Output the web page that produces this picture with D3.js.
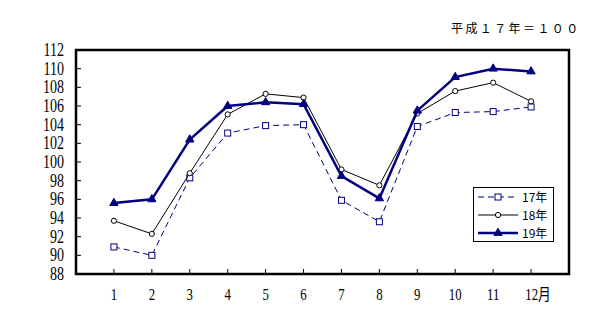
<!DOCTYPE html>
<html>
<head>
<meta charset="utf-8">
<script src="https://cdn.jsdelivr.net/npm/d3@7"></script>
<style>
  body { margin: 0; background: #fff; }
  svg { display: block; }
</style>
</head>
<body>
<div id="chart"></div>
<script>
// values (index, base year = 100)
const months = [1, 2, 3, 4, 5, 6, 7, 8, 9, 10, 11, 12];
const monthLabels = ["1", "2", "3", "4", "5", "6", "7", "8", "9", "10", "11", "12月"];
const yTicks = [88, 90, 92, 94, 96, 98, 100, 102, 104, 106, 108, 110, 112];
const seriesNames = ["17年", "18年", "19年"];
const h17 = [90.9, 90.0, 98.3, 103.1, 103.9, 104.0, 95.9, 93.6, 103.8, 105.3, 105.4, 105.9];
const h18 = [93.7, 92.3, 98.8, 105.1, 107.3, 106.9, 99.2, 97.5, 105.2, 107.6, 108.5, 106.5];
const h19 = [95.6, 96.0, 102.4, 106.0, 106.4, 106.2, 98.5, 96.1, 105.5, 109.1, 110.0, 109.7];

const W = 610, H = 320;
const frame = {left: 76, top: 50, right: 569, bottom: 274};
const navy = "#000080";

const svg = d3.select("#chart").append("svg")
  .attr("width", W).attr("height", H);

const x = d3.scalePoint()
  .domain(months)
  .range([frame.left, frame.right])
  .padding(1);

const y = d3.scaleLinear()
  .domain([88, 112])
  .range([frame.bottom, frame.top]);

// note at top right
svg.append("text")
  .attr("x", 451).attr("y", 33)
  .attr("font-family", "'Noto Sans CJK JP', sans-serif")
  .attr("font-size", 12)
  .attr("letter-spacing", 2.4)
  .text("平成１７年＝１００");

// y tick labels (narrow serif look)
svg.selectAll("g.ylab")
  .data(yTicks)
  .join("g")
  .attr("class", "ylab")
  .attr("transform", d => `translate(64,${y(d) + 6}) scale(0.78,1)`)
  .append("text")
  .attr("text-anchor", "end")
  .attr("font-family", "'Liberation Serif', serif")
  .attr("font-size", 18)
  .text(d => d);

// inward y ticks
svg.selectAll("line.ytick")
  .data(yTicks.slice(1, -1))
  .join("line")
  .attr("x1", frame.left).attr("x2", frame.left + 5)
  .attr("y1", d => y(d)).attr("y2", d => y(d))
  .attr("stroke", "#000").attr("stroke-width", 1);

// inward x ticks
svg.selectAll("line.xtick")
  .data(months)
  .join("line")
  .attr("x1", d => x(d)).attr("x2", d => x(d))
  .attr("y1", frame.bottom).attr("y2", frame.bottom - 5)
  .attr("stroke", "#000").attr("stroke-width", 1);

// x labels
svg.selectAll("g.xlab")
  .data(months)
  .join("g")
  .attr("class", "xlab")
  .attr("transform", (d, i) => `translate(${x(d) + (i === 11 ? 7 : 0)},${300}) scale(0.8,1)`)
  .append("text")
  .attr("text-anchor", "middle")
  .attr("font-family", "'Liberation Serif', 'Noto Sans CJK JP', serif")
  .attr("font-size", 16)
  .text((d, i) => monthLabels[i]);

// frame
svg.append("rect")
  .attr("x", frame.left).attr("y", frame.top)
  .attr("width", frame.right - frame.left)
  .attr("height", frame.bottom - frame.top)
  .attr("fill", "none")
  .attr("stroke", "#000")
  .attr("stroke-width", 2.5);

const line = d3.line()
  .x((d, i) => x(months[i]))
  .y(d => y(d));

const styles = [
  {data: h17, color: navy, width: 1, dash: "6,4", marker: "square"},
  {data: h18, color: "#000", width: 1, dash: null, marker: "circle"},
  {data: h19, color: navy, width: 2.5, dash: null, marker: "triangle"}
];

function drawMarker(g, kind, color) {
  if (kind === "square") {
    g.append("rect")
      .attr("x", -3).attr("y", -3).attr("width", 6).attr("height", 6)
      .attr("fill", "#fff").attr("stroke", color).attr("stroke-width", 1);
  } else if (kind === "circle") {
    g.append("circle")
      .attr("r", 2.6)
      .attr("fill", "#fff").attr("stroke", color).attr("stroke-width", 1);
  } else {
    g.append("path")
      .attr("d", d3.symbol(d3.symbolTriangle, 30)())
      .attr("fill", color).attr("stroke", color).attr("stroke-width", 1);
  }
}

styles.forEach(s => {
  svg.append("path")
    .datum(s.data)
    .attr("d", line)
    .attr("fill", "none")
    .attr("stroke", s.color)
    .attr("stroke-width", s.width)
    .attr("stroke-dasharray", s.dash);

  svg.selectAll(null)
    .data(s.data)
    .join("g")
    .attr("transform", (d, i) => `translate(${x(months[i])},${y(d)})`)
    .each(function() { drawMarker(d3.select(this), s.marker, s.color); });
});

// legend
const legend = svg.append("g");
legend.append("rect")
  .attr("x", 473.5).attr("y", 187.5)
  .attr("width", 80).attr("height", 54)
  .attr("fill", "#fff").attr("stroke", "#000").attr("stroke-width", 1);

const rowY = [197, 215, 233];
styles.forEach((s, i) => {
  const row = legend.append("g").attr("transform", `translate(0,${rowY[i]})`);
  row.append("line")
    .attr("x1", 478).attr("x2", 518)
    .attr("stroke", s.color)
    .attr("stroke-width", s.width)
    .attr("stroke-dasharray", s.dash);
  const m = row.append("g").attr("transform", "translate(498,0)");
  drawMarker(m, s.marker, s.color);
  row.append("text")
    .attr("x", 522).attr("y", 5)
    .attr("font-family", "'Noto Sans CJK JP', sans-serif")
    .attr("font-size", 12)
    .text(seriesNames[i]);
});
</script>
</body>
</html>
